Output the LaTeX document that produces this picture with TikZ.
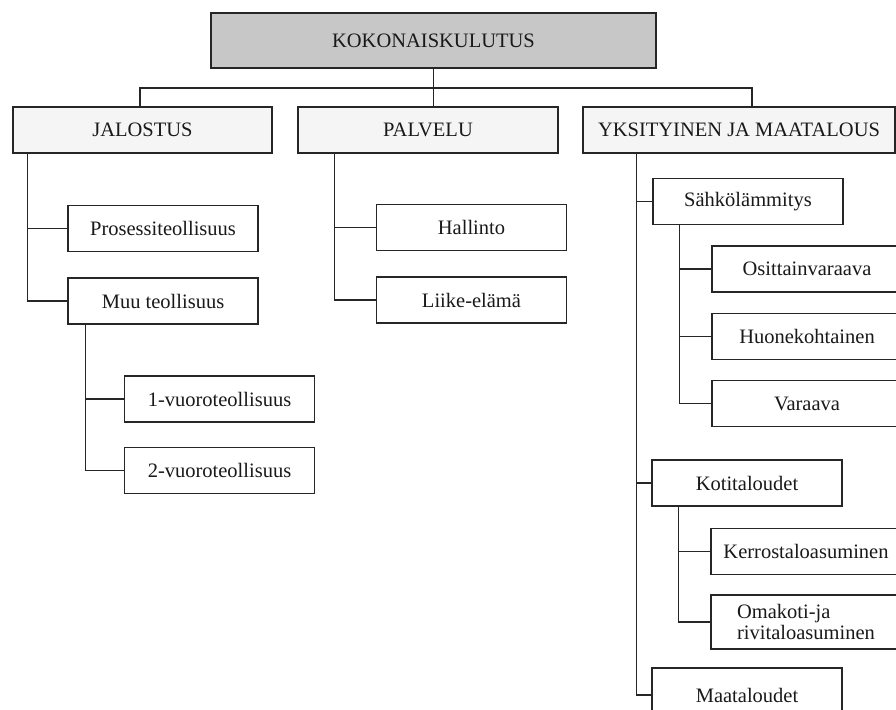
\documentclass[tikz,border=0pt]{standalone}
\usepackage{fontspec}
\setmainfont{Liberation Serif}
\begin{document}
\begin{tikzpicture}[x=1pt,y=-1pt,
  box/.style={draw=black!85,line width=1.3pt,fill=white,minimum width=190pt,minimum height=46pt,inner sep=0pt,font=\fontsize{20.5}{21}\selectfont,text=black!90},
  topbox/.style={box,fill=black!22,minimum width=445pt,minimum height=55pt},
  midbox/.style={box,fill=black!4,minimum height=46pt},
  conn/.style={draw=black!85,line width=1.3pt}]
\useasboundingbox (0,0) rectangle (896,709);
\clip (0,0) rectangle (896,709);
\node[topbox] (top) at (433.5,40.5) {KOKONAISKULUTUS};
\node[midbox,minimum width=259pt] (jal) at (142.5,130) {JALOSTUS};
\node[midbox,minimum width=260pt] (pal) at (428,130) {PALVELU};
\node[midbox,minimum width=312pt] (yks) at (739,130) {YKSITYINEN JA MAATALOUS};
\node[box] (pros) at (163,228.5) {Prosessiteollisuus};
\node[box] (muu) at (163,301) {Muu teollisuus};
\node[box] (v1) at (219.5,399) {1-vuoroteollisuus};
\node[box] (v2) at (219.5,470.5) {2-vuoroteollisuus};
\node[box] (hal) at (471.5,227.5) {Hallinto};
\node[box] (lii) at (471.5,300) {Liike-elämä};
\node[box] (sah) at (748,201.5) {Sähkölämmitys};
\node[box] (osi) at (807,269) {Osittainvaraava};
\node[box] (huo) at (807,336.5) {Huonekohtainen};
\node[box] (var) at (807,403.5) {Varaava};
\node[box] (kot) at (747,483) {Kotitaloudet};
\node[box] (ker) at (806,551.5) {Kerrostaloasuminen};
\node[box,minimum height=54pt,align=left] (oma) at (806,622) {Omakoti-ja\\rivitaloasuminen};
\node[box,minimum height=54pt] (maa) at (747,695) {Maataloudet};
% top level
\coordinate (busL) at (140,88);
\coordinate (busR) at (752,88);
\draw[conn] (top.south) -- (top.south |- pal.north);
\draw[conn] (jal.north -| busL) -- (busL) -- (busR) -- (yks.north -| busR);
% trunks
\coordinate (tj) at ([xshift=15pt]jal.south west);
\coordinate (tm) at ([xshift=18pt]muu.south west);
\coordinate (tp) at ([xshift=37pt]pal.south west);
\coordinate (ty) at ([xshift=54pt]yks.south west);
\coordinate (ts) at ([xshift=27pt]sah.south west);
\coordinate (tk) at ([xshift=27pt]kot.south west);
\draw[conn] (tj) |- (muu.west);
\draw[conn] (tj |- pros.west) -- (pros.west);
\draw[conn] (tm) |- (v2.west);
\draw[conn] (tm |- v1.west) -- (v1.west);
\draw[conn] (tp) |- (lii.west);
\draw[conn] (tp |- hal.west) -- (hal.west);
\draw[conn] (ty) |- (maa.west);
\draw[conn] (ty |- sah.west) -- (sah.west);
\draw[conn] (ty |- kot.west) -- (kot.west);
\draw[conn] (ts) |- (var.west);
\draw[conn] (ts |- osi.west) -- (osi.west);
\draw[conn] (ts |- huo.west) -- (huo.west);
\draw[conn] (tk) |- (oma.west);
\draw[conn] (tk |- ker.west) -- (ker.west);
\end{tikzpicture}
\end{document}
